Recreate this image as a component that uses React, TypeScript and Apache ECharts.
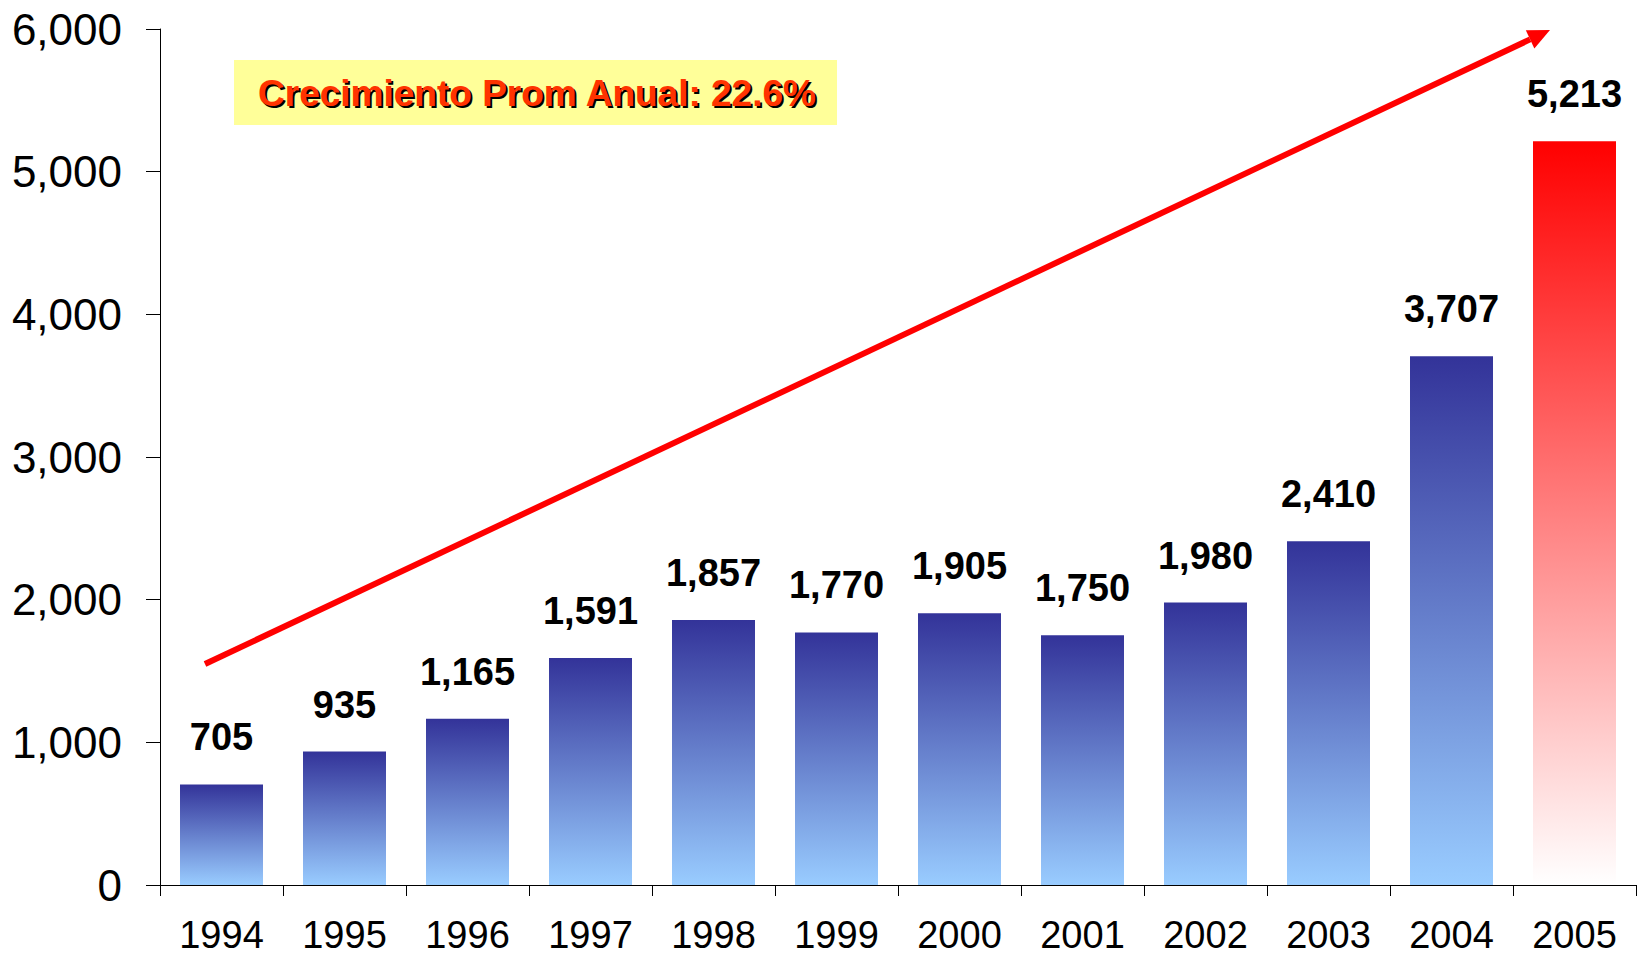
import React, { useEffect, useRef } from "react";
import * as echarts from "echarts";

const years = ["1994", "1995", "1996", "1997", "1998", "1999", "2000", "2001", "2002", "2003", "2004", "2005"];
const values = [705, 935, 1165, 1591, 1857, 1770, 1905, 1750, 1980, 2410, 3707, 5213];
const highlightYear = "2005";
const annotationText = "Crecimiento Prom Anual: 22.6%";

const FONT = "'Liberation Sans', Arial, Helvetica, sans-serif";

function arrowHead(x1: number, y1: number, x2: number, y2: number, len: number, half: number) {
  const dx = x2 - x1;
  const dy = y2 - y1;
  const l = Math.sqrt(dx * dx + dy * dy);
  const ux = dx / l;
  const uy = dy / l;
  const bx = x2 - ux * len;
  const by = y2 - uy * len;
  const px = -uy;
  const py = ux;
  return {
    base: [bx, by],
    pts: [
      [x2, y2],
      [bx + px * half, by + py * half],
      [bx - px * half, by - py * half],
    ],
  };
}

export default function App() {
  const ref = useRef<HTMLDivElement>(null);
  useEffect(() => {
    if (!ref.current) return;
    const chart = echarts.init(ref.current, null, { renderer: "svg" });
    const blueGrad = new echarts.graphic.LinearGradient(0, 0, 0, 1, [
      { offset: 0, color: "#333399" },
      { offset: 1, color: "#99CCFF" },
    ]);
    const redGrad = new echarts.graphic.LinearGradient(0, 0, 0, 1, [
      { offset: 0, color: "#FF0000" },
      { offset: 1, color: "#FFFFFF" },
    ]);
    const ax1 = 205, ay1 = 664, ax2 = 1550, ay2 = 30;
    const head = arrowHead(ax1, ay1, ax2, ay2, 22, 10);
    const textFont = `bold 37px ${FONT}`;
    chart.setOption({
      animation: false,
      backgroundColor: "#FFFFFF",
      grid: { left: 160, right: 2, top: 29, bottom: 72, containLabel: false },
      xAxis: {
        type: "category",
        data: years,
        axisLine: { show: true, lineStyle: { color: "#000000", width: 1 } },
        axisTick: { show: true, length: 11, inside: false, lineStyle: { color: "#000000" } },
        axisLabel: { color: "#000000", fontSize: 38, fontFamily: FONT, margin: 31 },
        splitLine: { show: false },
      },
      yAxis: {
        type: "value",
        min: 0,
        max: 6000,
        interval: 1000,
        axisLine: { show: true, lineStyle: { color: "#000000", width: 1 } },
        axisTick: { show: true, length: 14, inside: false, lineStyle: { color: "#000000" } },
        axisLabel: {
          color: "#000000",
          fontSize: 44,
          fontFamily: FONT,
          margin: 38,
          verticalAlign: "middle",
          padding: [0, 0, 6, 0],
          formatter: (v: number) => v.toLocaleString("en-US"),
        },
        splitLine: { show: false },
      },
      series: [
        {
          type: "bar",
          barWidth: 83,
          data: values.map((v, i) => ({
            value: v,
            itemStyle: { color: years[i] === highlightYear ? redGrad : blueGrad },
          })),
          label: {
            show: true,
            position: "top",
            distance: 28,
            color: "#000000",
            fontSize: 38,
            fontWeight: "bold",
            fontFamily: FONT,
            formatter: (p: any) => Number(p.value).toLocaleString("en-US"),
          },
        },
      ],
      graphic: [
        {
          type: "rect",
          shape: { x: 234, y: 60, width: 603, height: 65 },
          style: { fill: "#FFFF99" },
          z: 10,
        },
        {
          type: "text",
          x: 539,
          y: 95,
          z: 11,
          silent: true,
          style: {
            text: annotationText,
            fill: "#000000",
            font: textFont,
            align: "center",
            verticalAlign: "middle",
          },
        },
        {
          type: "text",
          x: 537,
          y: 93,
          z: 12,
          style: {
            text: annotationText,
            fill: "#FF3300",
            font: textFont,
            align: "center",
            verticalAlign: "middle",
          },
        },
        {
          type: "line",
          z: 12,
          shape: { x1: ax1, y1: ay1, x2: head.base[0], y2: head.base[1] },
          style: { stroke: "#FF0000", lineWidth: 6 },
        },
        {
          type: "polygon",
          z: 12,
          shape: { points: head.pts },
          style: { fill: "#FF0000" },
        },
      ],
    });
    return () => chart.dispose();
  }, []);
  return (
    <div
      ref={ref}
      style={{ position: "absolute", left: 0, top: 0, width: 1638, height: 957 }}
    />
  );
}
